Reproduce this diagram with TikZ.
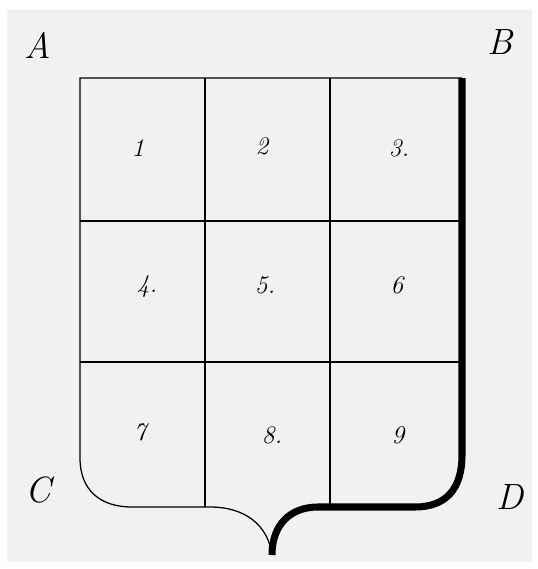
\documentclass[tikz,border=0pt]{standalone}
\usepackage{amsmath,amssymb}
\usepackage{xcolor}
\usepackage{tikz}
\definecolor{papier}{RGB}{241,241,241}
\begin{document}
\begin{tikzpicture}[x=0.25mm,y=-0.25mm,thin/.style={line width=0.9pt},thick/.style={line width=5pt},
  letter/.style={font=\fontsize{26}{26}\selectfont\itshape},num/.style={font=\fontsize{18}{18}\selectfont\itshape}]
\useasboundingbox(0,0)rectangle(538,569);
\fill[papier](7,10)rectangle(532,562);
\coordinate(A)at(80,78);\coordinate(B)at(462,78);\coordinate(Pt)at(272,555);
\coordinate(Cl)at(80,458);\coordinate(Cb)at(132,507);\coordinate(Ml)at(210,507);
\coordinate(Dr)at(462,455);\coordinate(Db)at(415,507);\coordinate(Mr)at(318,507);
\draw[thin](Pt)..controls(268,525)and(245,507)..(Ml)--(Cb)..controls(100,507)and(80,490)..(Cl)--(A)--(B);
\draw[thin](205,78)--(205,507);\draw[thin](330,78)--(330,507);
\draw[thin](80,221)--(462,221);\draw[thin](80,362)--(462,362);
\draw[thick](B)--(Dr)..controls(462,490)and(445,507)..(Db)--(Mr)..controls(290,507)and(272,525)..(Pt);
\node[letter](lA)at(38,45){A};\node[letter](lB)at(500,42){B};
\node[letter](lC)at(38,490){C};\node[letter](lD)at(510,497){D};
\node[num](n1)at(138,148){1};\node[num](n2)at(262,146){2};\node[num](n3)at(399,148){3.};
\node[num](n4)at(147,287){4.};\node[num](n5)at(265,285){5.};\node[num](n6)at(397,285){6};
\node[num](n7)at(140,432){7};\node[num](n8)at(272,435){8.};\node[num](n9)at(398,435){9};
\end{tikzpicture}
\end{document}
